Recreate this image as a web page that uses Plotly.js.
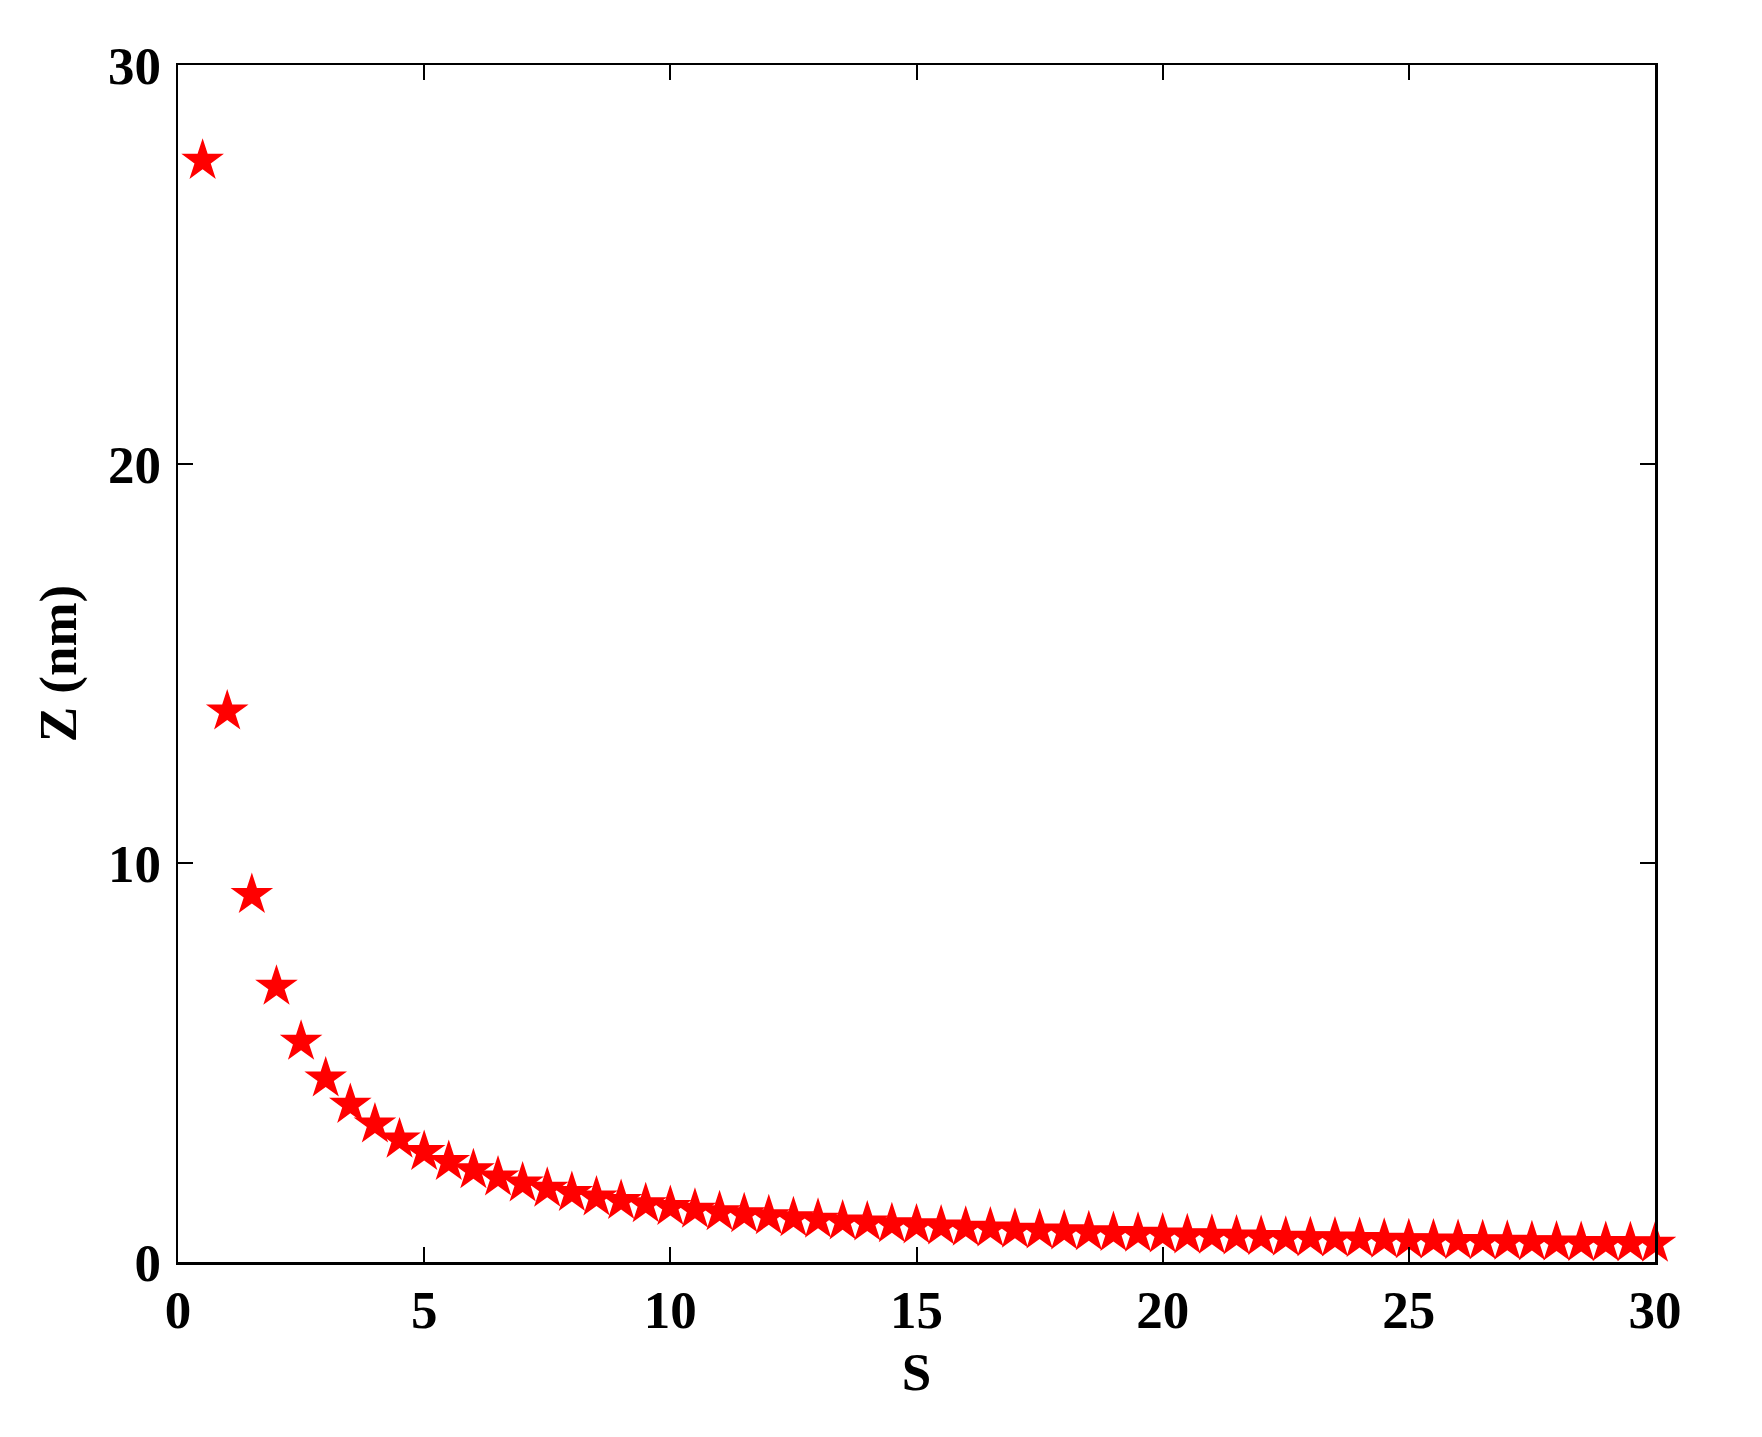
<!DOCTYPE html>
<html>
<head>
<meta charset="utf-8">
<script src="https://cdn.plot.ly/plotly-3.0.1.min.js"></script>
<style>html,body{margin:0;padding:0;background:#fff;}#chart{width:1762px;height:1437px;}</style>
</head>
<body>
<div id="chart"></div>
<script>
const S = [0.5,1,1.5,2,2.5,3,3.5,4,4.5,5,5.5,6,6.5,7,7.5,8,8.5,9,9.5,10,
           10.5,11,11.5,12,12.5,13,13.5,14,14.5,15,15.5,16,16.5,17,17.5,18,18.5,19,19.5,20,
           20.5,21,21.5,22,22.5,23,23.5,24,24.5,25,25.5,26,26.5,27,27.5,28,28.5,29,29.5,30];
const Z = [27.6,13.8,9.2,6.9,5.52,4.6,3.94,3.45,3.07,2.76,2.51,2.3,2.12,1.97,1.84,1.73,1.62,1.53,1.45,1.38,
           1.31,1.25,1.2,1.15,1.1,1.06,1.02,0.99,0.95,0.92,0.89,0.86,0.84,0.81,0.79,0.77,0.75,0.73,0.71,0.69,
           0.67,0.66,0.64,0.63,0.61,0.6,0.59,0.58,0.56,0.55,0.54,0.53,0.52,0.51,0.5,0.49,0.48,0.48,0.47,0.46];
const xTicks = [0,5,10,15,20,25,30];
const yTicks = [0,10,20,30];

const font = {family: '"Liberation Serif", "Times New Roman", serif', color: '#000'};

const trace = {
  x: S, y: Z, type: 'scatter', mode: 'markers', cliponaxis: false,
  marker: {symbol: 'star', size: 32, color: '#ff0000', line: {width: 0}},
  showlegend: false
};

const axisCommon = {
  showline: true, linecolor: '#000', linewidth: 2.5, mirror: 'ticks',
  ticks: 'inside', ticklen: 15, tickwidth: 2, tickcolor: '#000',
  showgrid: false, zeroline: false,
  tickfont: Object.assign({}, font, {size: 53, weight: 'bold'})
};

const layout = {
  width: 1762, height: 1437,
  paper_bgcolor: '#fff', plot_bgcolor: '#fff',
  margin: {l: 178, r: 107, t: 65, b: 175},
  font: font,
  xaxis: Object.assign({}, axisCommon, {
    range: [0, 30], tickvals: xTicks, ticktext: xTicks.map(String),
    title: {text: '<b>S</b>', font: Object.assign({}, font, {size: 53}), standoff: 15}
  }),
  yaxis: Object.assign({}, axisCommon, {
    range: [0, 30], tickvals: yTicks, ticktext: yTicks.map(String), ticklabelstandoff: 4,
    title: {text: '<b>Z (nm)</b>', font: Object.assign({}, font, {size: 53}), standoff: 15}
  })
};

Plotly.newPlot('chart', [trace], layout, {staticPlot: true, displayModeBar: false});
</script>
</body>
</html>
